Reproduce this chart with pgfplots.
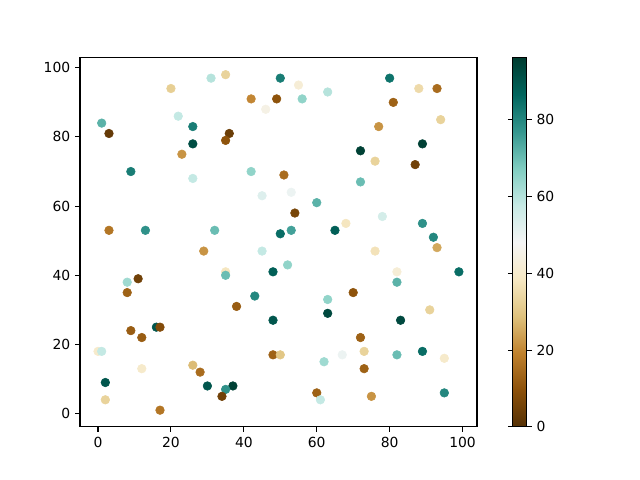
\documentclass[border=0pt]{standalone}
\usepackage{pgfplots}
\pgfplotsset{compat=1.18}
\usepackage{fontspec}
\setmainfont{DejaVu Sans}
\begin{document}
\begin{tikzpicture}
\path (0,0) rectangle (460.8pt,345.6pt);
\begin{axis}[
  at={(57.6pt,38.2pt)}, anchor=south west,
  scale only axis, width=285.8pt, height=265.7pt,
  xmin=-4.95, xmax=103.95, ymin=-3.85, ymax=102.85,
  xtick={0,20,...,100}, ytick={0,20,...,100},
  tick align=outside, tick pos=left,
  major tick length=3.5pt,
  every tick/.style={black, line width=0.8pt},
  axis line style={line width=0.8pt},
  font=\fontsize{10pt}{12pt}\selectfont,
  /pgf/number format/assume math mode=true,
  colormap={brbg}{rgb255=(84,48,5) rgb255=(140,81,10) rgb255=(191,129,45) rgb255=(223,194,125) rgb255=(246,232,195) rgb255=(245,245,245) rgb255=(199,234,229) rgb255=(128,205,193) rgb255=(53,151,143) rgb255=(1,102,94) rgb255=(0,60,48)},
  point meta min=0, point meta max=96,
  colorbar,
  colorbar style={at={(parent axis.north east)}, anchor=north west, xshift=17.3pt,
    width=10.1pt, ytick={0,20,...,80}, tick align=outside, major tick length=3.5pt,
    every tick/.style={black, line width=0.8pt}, axis line style={line width=0.8pt},
    font=\fontsize{10pt}{12pt}\selectfont,
    /pgf/number format/assume math mode=true},
]
\addplot[scatter, only marks, mark=*, mark size=3.1pt, scatter src=explicit,
  scatter/use mapped color={draw=mapped color, fill=mapped color}] table[meta=c] {
x y c
31 97 60
35 98 33
20 94 32
50 97 82
42 91 20
49 91 10
46 88 45
22 86 58
1 84 72
3 81 3
26 83 82
36 81 4
35 79 10
26 78 92
23 75 22
9 70 82
26 68 58
42 70 65
45 63 53
3 53 17
13 53 78
32 53 70
55 95 42
56 91 65
63 93 60
80 97 84
88 94 35
93 94 15
81 90 13
77 83 22
94 85 33
89 78 95
72 76 95
76 73 33
87 72 5
51 69 15
72 67 70
53 64 50
60 61 72
54 58 6
68 55 38
78 57 55
89 55 78
50 52 85
53 53 75
65 53 88
92 51 80
93 48 25
76 47 37
52 43 65
48 41 88
82 41 42
82 38 72
99 41 85
70 35 10
63 33 65
63 29 93
48 27 90
83 27 93
91 30 33
72 22 13
48 17 13
50 17 30
73 18 33
67 17 50
62 15 63
82 17 70
89 18 85
95 16 40
73 13 13
60 6 13
61 4 58
75 5 22
95 6 80
29 47 22
45 47 58
35 41 38
35 40 70
8 38 63
11 39 5
8 35 13
43 34 80
38 31 12
9 24 12
12 22 12
16 25 90
17 25 8
0 18 40
1 18 58
12 13 40
26 14 28
28 12 15
2 9 90
30 8 90
37 8 95
35 7 78
34 5 5
2 4 33
17 1 17
};
\end{axis}
\end{tikzpicture}
\end{document}
